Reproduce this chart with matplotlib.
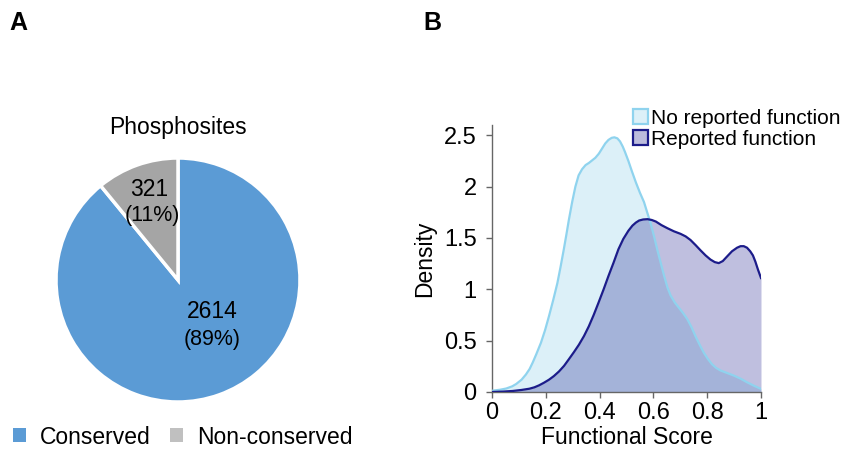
import matplotlib
matplotlib.use("Agg")
import matplotlib.pyplot as plt
from matplotlib.patches import Patch

plt.rcParams['font.family'] = ['Liberation Sans', 'DejaVu Sans']

# ---- Data: Panel A ----
pie_labels = ["Conserved", "Non-conserved"]
pie_counts = [2614, 321]
pie_pcts = ["89%", "11%"]
pie_colors = ["#5b9bd5", "#a5a5a5"]

# ---- Data: Panel B (density curves) ----
x_no = [0.0, 0.03, 0.053, 0.075, 0.09, 0.11, 0.126, 0.14, 0.151, 0.165, 0.182, 0.197, 0.212, 0.228,
        0.243, 0.255, 0.267, 0.277, 0.286, 0.298, 0.31, 0.322, 0.335, 0.348, 0.36, 0.372, 0.384,
        0.397, 0.409, 0.421, 0.433, 0.445, 0.455, 0.466, 0.476, 0.486, 0.494, 0.507, 0.52, 0.535,
        0.55, 0.565, 0.578, 0.59, 0.603, 0.615, 0.628, 0.64, 0.652, 0.664, 0.68, 0.695, 0.71,
        0.726, 0.742, 0.757, 0.772, 0.788, 0.803, 0.818, 0.833, 0.849, 0.874, 0.899, 0.924, 0.948,
        0.973, 1.0]
y_no = [0.012, 0.022, 0.034, 0.055, 0.078, 0.12, 0.17, 0.225, 0.285, 0.37, 0.48, 0.60, 0.74, 0.90,
        1.06, 1.22, 1.39, 1.54, 1.68, 1.85, 2.0, 2.11, 2.17, 2.21, 2.23, 2.255, 2.28,
        2.32, 2.37, 2.42, 2.455, 2.475, 2.48, 2.47, 2.44, 2.39, 2.34, 2.25, 2.15, 2.04,
        1.94, 1.85, 1.74, 1.64, 1.51, 1.38, 1.25, 1.13, 1.02, 0.94, 0.87, 0.82, 0.77,
        0.71, 0.63, 0.54, 0.46, 0.38, 0.32, 0.27, 0.235, 0.21, 0.185, 0.16, 0.13, 0.095,
        0.062, 0.03]

x_rep = [0.0, 0.04, 0.077, 0.11, 0.139, 0.158, 0.175, 0.193, 0.212, 0.23, 0.249, 0.268, 0.286,
         0.305, 0.323, 0.342, 0.36, 0.378, 0.396, 0.415, 0.433, 0.452, 0.47, 0.488, 0.507, 0.522,
         0.535, 0.547, 0.562, 0.578, 0.594, 0.609, 0.63, 0.652, 0.676, 0.701, 0.72, 0.738, 0.757,
         0.775, 0.794, 0.812, 0.828, 0.843, 0.858, 0.874, 0.892, 0.911, 0.924, 0.936, 0.948, 0.96,
         0.97, 0.979, 0.989, 1.0]
y_rep = [0.0, 0.004, 0.01, 0.02, 0.032, 0.046, 0.065, 0.09, 0.12, 0.155, 0.20, 0.255, 0.32,
         0.39, 0.46, 0.545, 0.64, 0.75, 0.87, 1.0, 1.13, 1.26, 1.39, 1.49, 1.57, 1.62,
         1.65, 1.67, 1.68, 1.683, 1.675, 1.66, 1.625, 1.595, 1.565, 1.54, 1.515, 1.48, 1.43,
         1.38, 1.33, 1.29, 1.265, 1.255, 1.275, 1.32, 1.37, 1.405, 1.42, 1.42, 1.405, 1.37,
         1.33, 1.27, 1.19, 1.11]

x_ticks = [0, 0.2, 0.4, 0.6, 0.8, 1.0]
x_ticklabels = ["0", "0.2", "0.4", "0.6", "0.8", "1"]
y_ticks = [0, 0.5, 1.0, 1.5, 2.0, 2.5]
y_ticklabels = ["0", "0.5", "1", "1.5", "2", "2.5"]

fig = plt.figure(figsize=(8.42, 4.49), dpi=100)

# ---------------- Panel A ----------------
axA = fig.add_axes([56 / 842, 47 / 449, 244 / 842, 244 / 449])
wedges, _ = axA.pie(pie_counts, colors=pie_colors, startangle=90, counterclock=False,
                    wedgeprops=dict(edgecolor="white", linewidth=2.5))
axA.set_xlim(-1, 1)
axA.set_ylim(-1, 1)
axA.set_aspect("equal")
for w in wedges:
    w.set_clip_on(False)

fig.text(212 / 842, 1 - 311 / 449, str(pie_counts[0]), ha="center", va="center", fontsize=16.5)
fig.text(212 / 842, 1 - 340 / 449, "(" + pie_pcts[0] + ")", ha="center", va="center", fontsize=15.5)
fig.text(149 / 842, 1 - 190 / 449, str(pie_counts[1]), ha="center", va="center", fontsize=16.5)
fig.text(152 / 842, 1 - 216 / 449, "(" + pie_pcts[1] + ")", ha="center", va="center", fontsize=15.5)
fig.text(178 / 842, 1 - 127 / 449, "Phosphosites", ha="center", va="center", fontsize=16.5)

handlesA = [Patch(facecolor=pie_colors[0], edgecolor="none"),
            Patch(facecolor="#c0c0c0", edgecolor="none")]
fig.legend(handlesA, pie_labels, loc="center left", bbox_to_anchor=(13 / 842, 12 / 449), ncol=2,
           frameon=False, fontsize=16.5, handlelength=0.55, handleheight=0.55, handletextpad=0.62,
           columnspacing=0.85, borderaxespad=0, borderpad=0)

fig.text(18 / 842, 1 - 23 / 449, "A", ha="center", va="center", fontsize=18, fontweight="bold")
fig.text(432 / 842, 1 - 23 / 449, "B", ha="center", va="center", fontsize=18, fontweight="bold")

# ---------------- Panel B ----------------
axB = fig.add_axes([492 / 842, 57 / 449, 269 / 842, 267 / 449])
light_line = "#8fd3ee"
dark_line = "#1c1c8a"
axB.fill_between(x_no, y_no, 0, color="#dcf0f8", linewidth=0, zorder=1)
axB.fill_between(x_rep, y_rep, 0, color="#000080", alpha=0.25, linewidth=0, zorder=2)
axB.plot(x_no, y_no, color=light_line, lw=1.6, zorder=3, solid_joinstyle="round")
axB.plot(x_rep, y_rep, color=dark_line, lw=1.6, zorder=4, solid_joinstyle="round")

axB.set_xlim(0, 1)
axB.set_ylim(0, 2.6)
axB.set_xticks(x_ticks)
axB.set_xticklabels(x_ticklabels)
axB.set_yticks(y_ticks)
axB.set_yticklabels(y_ticklabels)
for s in ["top", "right"]:
    axB.spines[s].set_visible(False)
for s in ["left", "bottom"]:
    axB.spines[s].set_color("#666666")
    axB.spines[s].set_linewidth(1.0)
axB.tick_params(direction="out", length=4, width=1, colors="#666666", labelcolor="black",
                labelsize=17)
axB.tick_params(axis="x", pad=3)
axB.tick_params(axis="y", pad=7)
axB.set_xlabel("Functional Score", fontsize=16.5, labelpad=2)
axB.set_ylabel("Density", fontsize=16.5, labelpad=6)

handlesB = [Patch(facecolor="#dcf0f8", edgecolor=light_line, linewidth=1.6),
            Patch(facecolor="#bcbcdc", edgecolor=dark_line, linewidth=1.6)]
fig.legend(handlesB, ["No reported function", "Reported function"], loc="upper left",
           bbox_to_anchor=(633 / 842, 1 - 109 / 449), frameon=False, fontsize=15,
           handlelength=0.7, handleheight=0.7, handletextpad=0.15, labelspacing=0.1,
           borderaxespad=0, borderpad=0)

fig.savefig("out.png", dpi=100)
